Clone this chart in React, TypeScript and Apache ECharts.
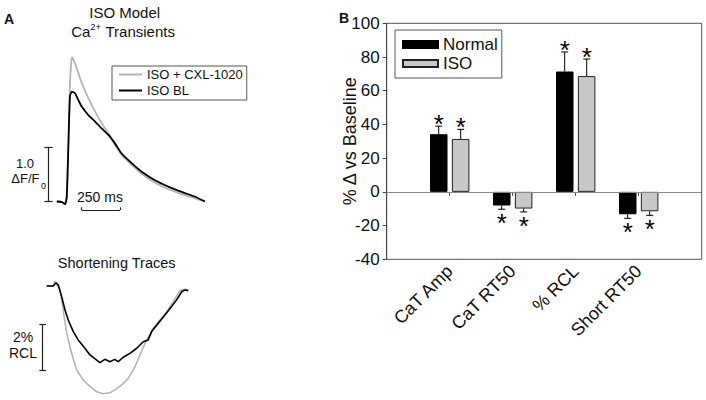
import React, { useEffect, useRef } from 'react';
import * as echarts from 'echarts';

const FONT = "'Liberation Sans', Arial, Helvetica, sans-serif";

// ---- Panel B data ----
const categories = ['CaT Amp', 'CaT RT50', '% RCL', 'Short RT50'];
const normalValues = [34.2, -8.1, 71.4, -13.3];
const normalErrors = [4.8, 2.2, 11.6, 2.4];
const isoValues = [31.4, -9.9, 68.7, -11.5];
const isoErrors = [5.7, 2.0, 10.1, 2.4];
const yMin = -40;
const yMax = 100;
const yInterval = 20;

// ---- Panel A: Ca2+ transients [time ms, ΔF/F0] ----
const caIsoBL = [
  [-10, -0.01], [24, -0.02], [44, -0.06], [55, 0.08], [65, 0.96], [76, 1.96], [88, 2.05],
  [109, 2.02], [131, 1.89], [153, 1.77], [196, 1.61], [240, 1.49], [283, 1.36], [327, 1.24],
  [370, 1.08], [414, 0.89], [479, 0.71], [545, 0.55], [631, 0.39], [718, 0.27], [806, 0.17],
  [893, 0.08], [958, -0.01],
];
const caIsoCxl = [
  [-10, -0.01], [24, -0.02], [44, -0.06], [55, 0.08], [65, 0.96], [76, 2.21], [85, 2.61],
  [91, 2.7], [109, 2.58], [131, 2.4], [153, 2.21], [196, 1.93], [240, 1.68], [283, 1.46],
  [327, 1.27], [370, 1.05], [414, 0.86], [479, 0.68], [545, 0.51], [631, 0.34], [718, 0.22],
  [806, 0.13], [893, 0.05], [958, -0.01],
];
// scale bars (data units)
const caScaleAmp = 1.0; // ΔF/F0
const caScaleTime = 250; // ms

// ---- Panel A: shortening traces [time ms, % RCL] ----
const shortIsoBL = [
  [0, 0.03], [43, 0.03], [61, 0.17], [76, 0.07], [98, -0.43], [120, -1.01], [141, -1.44],
  [174, -1.94], [206, -2.3], [250, -2.66], [283, -2.95], [327, -3.17], [348, -3.28],
  [380, -3.14], [413, -3.24], [445, -3.14], [468, -3.24], [500, -3.05], [544, -2.88],
  [588, -2.66], [631, -2.38], [663, -2.3], [686, -1.94], [729, -1.58], [773, -1.22],
  [816, -0.86], [849, -0.57], [882, -0.22], [903, -0.14], [925, -0.17],
];
const shortIsoCxl = [
  [0, 0.03], [43, 0.03], [54, 0.22], [87, -0.14], [108, -1.01], [131, -2.01], [163, -2.88],
  [196, -3.6], [239, -4.03], [283, -4.32], [327, -4.54], [370, -4.63], [413, -4.58],
  [446, -4.46], [490, -4.24], [533, -3.96], [577, -3.46], [609, -2.95], [653, -2.3],
  [696, -1.8], [739, -1.44], [784, -1.08], [827, -0.65], [870, -0.17], [903, -0.11], [925, -0.14],
];
const shortScalePct = 2; // % RCL

const GRAY = '#b4b4b4';
const BLACK = '#000000';

function pad(arr: (number | string)[]) {
  return ['-', ...arr, '-'];
}

function scaleBarLine(a: number[], b: number[]) {
  return [{ coord: a }, { coord: b }];
}

function errorSeries(values: number[], errors: number[], offset: number) {
  return {
    type: 'custom',
    xAxisIndex: 0,
    yAxisIndex: 0,
    z: 10,
    silent: true,
    data: values.map((v, i) => [i + 1, v, errors[i]]),
    renderItem: (params: any, api: any) => {
      const idx = api.value(0);
      const v = api.value(1);
      const e = api.value(2);
      const sign = v >= 0 ? 1 : -1;
      const base = api.coord([idx, v]);
      const end = api.coord([idx, v + sign * e]);
      const x = base[0] + offset;
      const ty = sign > 0 ? end[1] - 2 : end[1] + 14;
      return {
        type: 'group',
        children: [
          { type: 'line', shape: { x1: x, y1: base[1], x2: x, y2: end[1] }, style: { stroke: '#000', lineWidth: 1 } },
          { type: 'line', shape: { x1: x - 3.5, y1: end[1], x2: x + 3.5, y2: end[1] }, style: { stroke: '#000', lineWidth: 1 } },
          {
            type: 'text',
            x,
            y: ty,
            style: {
              text: '*',
              fontSize: 26,
              fontFamily: FONT,
              fill: '#000',
              align: 'center',
              verticalAlign: 'middle',
              textAlign: 'center',
              textVerticalAlign: 'middle',
            },
          },
        ],
      };
    },
  };
}

function txt(text: string, x: number, y: number, size: number, align = 'center', weight = 'normal', lh?: number) {
  return {
    type: 'text',
    x,
    y,
    silent: true,
    style: {
      text,
      fontSize: size,
      fontFamily: FONT,
      fontWeight: weight,
      fill: '#111',
      align,
      verticalAlign: 'middle',
      textAlign: align,
      textVerticalAlign: 'middle',
      lineHeight: lh,
    },
  };
}

const catAxisData = pad(categories) as string[];
const showCat = (i: number) => i >= 1 && i <= categories.length;

export default function App() {
  const ref = useRef<HTMLDivElement>(null);
  useEffect(() => {
    if (!ref.current) return;
    const chart = echarts.init(ref.current, null, { renderer: 'svg' });
    const markLineBase = {
      silent: true,
      symbol: ['none', 'none'],
      label: { show: false },
      animation: false,
    };
    const option: any = {
      animation: false,
      backgroundColor: '#ffffff',
      textStyle: { fontFamily: FONT },
      grid: [
        {
          left: 386.7, right: 4.3, top: 23.3, bottom: 140.7,
          show: true, borderColor: '#555', borderWidth: 1,
          outerBoundsMode: 'none', containLabel: false,
        },
        { left: 43.0, top: 51.7, width: 168.4, height: 162.6, outerBoundsMode: 'none', containLabel: false },
        { left: 39.0, top: 275.1, width: 153.1, height: 127.3, outerBoundsMode: 'none', containLabel: false },
      ],
      xAxis: [
        {
          type: 'category',
          gridIndex: 0,
          data: catAxisData,
          boundaryGap: false,
          axisLine: { lineStyle: { color: '#444', width: 1 } },
          axisTick: { show: true, length: 4, interval: (i: number) => showCat(i), lineStyle: { color: '#444' } },
          axisLabel: {
            interval: (i: number) => showCat(i),
            rotate: 45,
            fontSize: 18,
            color: '#111',
            margin: 9,
            fontFamily: FONT,
          },
          splitLine: { show: false },
        },
        { type: 'value', gridIndex: 1, min: -100, max: 1000, show: false },
        { type: 'value', gridIndex: 2, min: -50, max: 950, show: false },
      ],
      yAxis: [
        {
          type: 'value',
          gridIndex: 0,
          min: yMin,
          max: yMax,
          interval: yInterval,
          name: '% Δ vs Baseline',
          nameLocation: 'middle',
          nameGap: 28,
          nameRotate: 90,
          nameMoveOverlap: false,
          nameTextStyle: { fontSize: 18, color: '#111', fontFamily: FONT },
          axisLine: { show: true, lineStyle: { color: '#444', width: 1 } },
          axisTick: { show: true, length: 4, lineStyle: { color: '#444' } },
          axisLabel: { fontSize: 17, color: '#111', margin: 7, fontFamily: FONT },
          splitLine: { show: false },
        },
        { type: 'value', gridIndex: 1, min: -0.25, max: 2.8, show: false },
        { type: 'value', gridIndex: 2, min: -5, max: 0.5, show: false },
      ],
      legend: [
        {
          data: ['ISO + CXL-1020', 'ISO BL'],
          orient: 'vertical',
          left: 112,
          top: 66,
          padding: [2, 4, 3, 7],
          itemGap: 3,
          itemWidth: 23,
          itemHeight: 2,
          icon: 'rect',
          borderColor: '#555',
          borderWidth: 1,
          selectedMode: false,
          textStyle: { fontSize: 13, color: '#111', fontFamily: FONT },
        },
        {
          data: ['Normal', 'ISO'],
          orient: 'vertical',
          left: 395,
          top: 30,
          padding: [6, 4, 6, 7],
          itemGap: 2,
          itemWidth: 35,
          itemHeight: 7,
          icon: 'rect',
          borderColor: '#555',
          borderWidth: 1,
          selectedMode: false,
          textStyle: { fontSize: 17, color: '#111', fontFamily: FONT },
        },
      ],
      series: [
        {
          name: 'Normal',
          type: 'bar',
          xAxisIndex: 0,
          yAxisIndex: 0,
          data: pad(normalValues),
          barWidth: 17.5,
          barGap: '25%',
          itemStyle: { color: '#000', borderColor: '#000', borderWidth: 1 },
          markLine: {
            ...markLineBase,
            lineStyle: { color: '#888', width: 1, type: 'solid' },
            data: [{ yAxis: 0 }],
          },
        },
        {
          name: 'ISO',
          type: 'bar',
          xAxisIndex: 0,
          yAxisIndex: 0,
          data: pad(isoValues),
          barWidth: 17.5,
          barGap: '25%',
          itemStyle: { color: '#c8c8c8', borderColor: '#222', borderWidth: 1 },
        },
        errorSeries(normalValues, normalErrors, -11),
        errorSeries(isoValues, isoErrors, 11),
        {
          name: 'ISO + CXL-1020',
          type: 'line',
          xAxisIndex: 1,
          yAxisIndex: 1,
          data: caIsoCxl,
          symbol: 'none',
          showSymbol: false,
          smooth: 0.2,
          lineStyle: { color: GRAY, width: 1.8 },
          itemStyle: { color: GRAY },
        },
        {
          name: 'ISO BL',
          type: 'line',
          xAxisIndex: 1,
          yAxisIndex: 1,
          data: caIsoBL,
          symbol: 'none',
          showSymbol: false,
          smooth: 0.2,
          lineStyle: { color: BLACK, width: 1.8 },
          itemStyle: { color: BLACK },
          markLine: {
            ...markLineBase,
            lineStyle: { color: '#222', width: 1.2, type: 'solid' },
            data: [
              scaleBarLine([-65, 0], [-65, caScaleAmp]),
              scaleBarLine([-91, 0], [-37, 0]),
              scaleBarLine([-91, caScaleAmp], [-37, caScaleAmp]),
              scaleBarLine([153, -0.17], [153 + caScaleTime, -0.17]),
              scaleBarLine([153, -0.17], [153, -0.12]),
              scaleBarLine([153 + caScaleTime, -0.17], [153 + caScaleTime, -0.12]),
            ],
          },
        },
        {
          name: 'Short CXL',
          type: 'line',
          xAxisIndex: 2,
          yAxisIndex: 2,
          data: shortIsoCxl,
          symbol: 'none',
          showSymbol: false,
          lineStyle: { color: GRAY, width: 1.6 },
        },
        {
          name: 'Short BL',
          type: 'line',
          xAxisIndex: 2,
          yAxisIndex: 2,
          data: shortIsoBL,
          symbol: 'none',
          showSymbol: false,
          lineStyle: { color: BLACK, width: 1.6 },
          markLine: {
            ...markLineBase,
            lineStyle: { color: '#222', width: 1.2, type: 'solid' },
            data: [
              scaleBarLine([-26, -1.62], [-26, -1.62 - shortScalePct]),
              scaleBarLine([-48, -1.62], [-4, -1.62]),
              scaleBarLine([-48, -1.62 - shortScalePct], [-4, -1.62 - shortScalePct]),
            ],
          },
        },
      ],
      graphic: [
        txt('A', 9, 19, 14, 'center', 'bold'),
        txt('B', 344, 18, 14, 'center', 'bold'),
        txt('ISO Model', 124.7, 12.5, 15),
        txt('Ca', 71.2, 31.7, 15, 'left'),
        txt('2+', 90.3, 26.5, 9.5, 'left'),
        txt('Transients', 105.5, 31.7, 15, 'left'),
        txt('1.0', 25, 163, 13, 'center', 'normal', 14),
        txt('ΔF/F', 39.5, 178, 13, 'right', 'normal', 14),
        txt('0', 41, 185.5, 9, 'left', 'normal', 8),
        txt('250 ms', 100, 196.7, 14),
        txt('Shortening Traces', 116.7, 262.5, 14.5),
        txt('2%\nRCL', 23, 345, 14, 'center', 'normal', 15.5),
      ],
    };
    chart.setOption(option);
    return () => chart.dispose();
  }, []);
  return (
    <div
      ref={ref}
      style={{ position: 'fixed', left: 0, top: 0, width: 706, height: 400 }}
    />
  );
}
